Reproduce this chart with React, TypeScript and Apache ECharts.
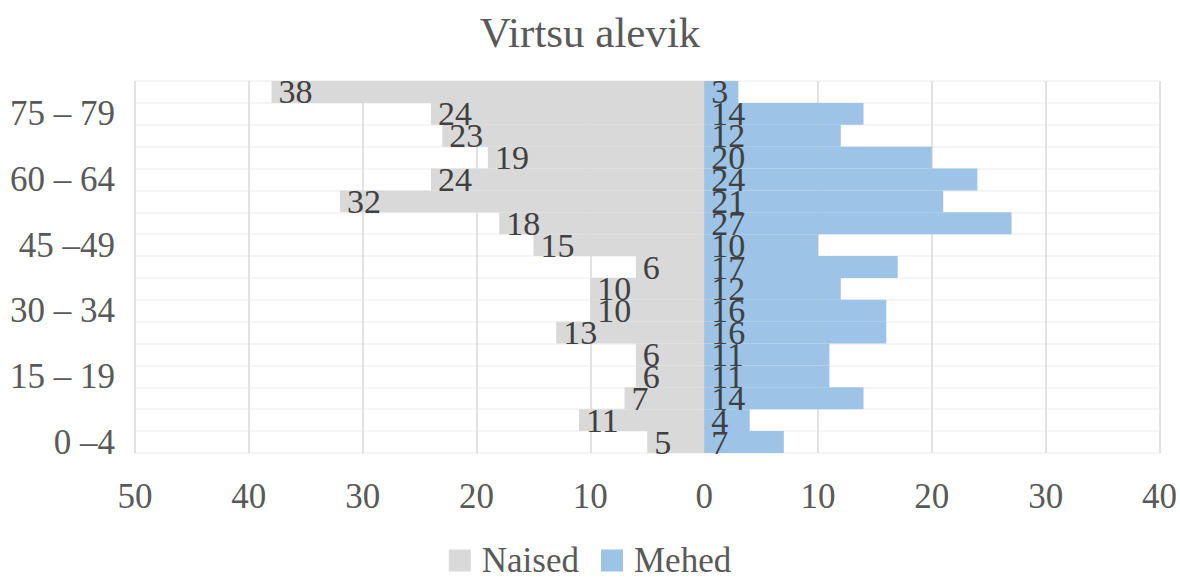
import React, { useEffect, useRef } from "react";
import * as echarts from "echarts";

const ageGroups = [
  "0 –4", "5 – 9", "10 – 14", "15 – 19", "20 – 24", "25 – 29", "30 – 34",
  "35 – 39", "40 – 44", "45 –49", "50 – 54", "55 – 59", "60 – 64",
  "65 – 69", "70 – 74", "75 – 79", "80+",
];
const women = [5, 11, 7, 6, 6, 13, 10, 10, 6, 15, 18, 32, 24, 19, 23, 24, 38];
const men = [7, 4, 14, 11, 11, 16, 16, 12, 17, 10, 27, 21, 24, 20, 12, 14, 3];

const FONT = "'Liberation Serif', 'DejaVu Serif', serif";

export default function App() {
  const ref = useRef<HTMLDivElement>(null);
  useEffect(() => {
    if (!ref.current) return;
    const chart = echarts.init(ref.current, null, { renderer: "svg" });
    chart.setOption({
      animation: false,
      backgroundColor: "#ffffff",
      textStyle: { fontFamily: FONT },
      title: {
        text: "Virtsu alevik",
        left: "center",
        top: 6,
        textStyle: { fontFamily: FONT, fontSize: 43, fontWeight: "normal", color: "#595959" },
      },
      legend: {
        bottom: -3,
        left: "center",
        itemWidth: 22,
        itemHeight: 22,
        itemGap: 22,
        icon: "rect",
        textStyle: { fontFamily: FONT, fontSize: 35, color: "#595959", padding: [0, 0, 0, 6] },
        data: ["Naised", "Mehed"],
      },
      grid: { left: 135, right: 20, top: 81, bottom: 127, containLabel: false },
      xAxis: {
        type: "value",
        min: -50,
        max: 40,
        interval: 10,
        axisLine: { show: false },
        axisTick: { show: false },
        axisLabel: {
          formatter: (v: number) => String(Math.abs(v)),
          fontFamily: FONT,
          fontSize: 35,
          color: "#595959",
          margin: 26,
        },
        splitLine: { show: true, lineStyle: { color: "#D9D9D9", width: 1.5 } },
      },
      yAxis: {
        type: "category",
        data: ageGroups,
        axisLine: { show: false },
        axisTick: { show: false },
        axisLabel: {
          interval: 2,
          fontFamily: FONT,
          fontSize: 35,
          color: "#595959",
          margin: 20,
        },
        splitLine: { show: true, interval: 0, lineStyle: { color: "#F2F2F2", width: 1.5 } },
      },
      series: [
        {
          name: "Naised",
          type: "bar",
          data: women.map((v) => -v),
          barGap: "-100%",
          barCategoryGap: 0,
          itemStyle: { color: "#D9D9D9" },
          label: {
            show: true,
            position: "insideLeft",
            distance: 7,
            formatter: (p: any) => String(Math.abs(p.value)),
            fontFamily: FONT,
            fontSize: 34,
            color: "#404040",
          },
        },
        {
          name: "Mehed",
          type: "bar",
          data: men,
          barGap: "-100%",
          barCategoryGap: 0,
          itemStyle: { color: "#9DC3E6" },
          label: {
            show: true,
            position: "insideLeft",
            distance: 7,
            fontFamily: FONT,
            fontSize: 34,
            color: "#404040",
          },
        },
      ],
    });
    return () => chart.dispose();
  }, []);
  return (
    <div
      ref={ref}
      style={{ position: "fixed", left: 0, top: 0, width: 1180, height: 580 }}
    />
  );
}
